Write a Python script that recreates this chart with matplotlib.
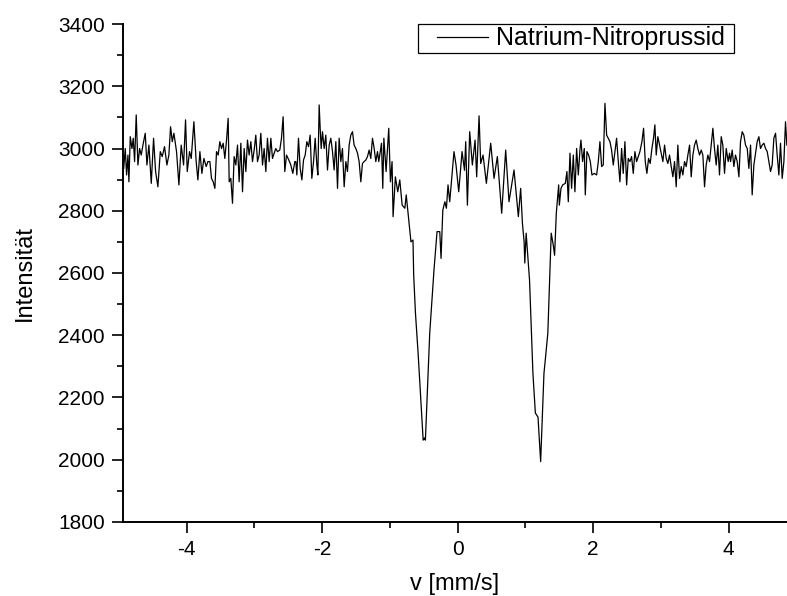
import matplotlib
matplotlib.use("Agg")
import matplotlib.pyplot as plt
from matplotlib.ticker import MultipleLocator
from matplotlib.patches import Rectangle

plt.rcParams['font.family'] = ['Liberation Sans', 'DejaVu Sans']
plt.rcParams['axes.unicode_minus'] = False

# velocity [mm/s] and counts
v = [
    -4.930, -4.907, -4.887, -4.867, -4.853, -4.833, -4.808, -4.789, -4.769, -4.745,
    -4.720, -4.695, -4.671, -4.646, -4.612, -4.587, -4.558, -4.523, -4.489, -4.459,
    -4.425, -4.390, -4.361, -4.327, -4.292, -4.263, -4.238, -4.213, -4.189, -4.150,
    -4.115, -4.081, -4.046, -4.017, -3.992, -3.958, -3.933, -3.894, -3.860, -3.835,
    -3.805, -3.776, -3.746, -3.712, -3.687,
    -3.658, -3.634, -3.609, -3.584, -3.560, -3.535, -3.511, -3.486, -3.462, -3.437,
    -3.412, -3.388, -3.373, -3.349, -3.324, -3.300, -3.275, -3.250, -3.226, -3.201,
    -3.176, -3.152, -3.127, -3.103, -3.078, -3.053, -3.029, -3.004, -2.980, -2.955,
    -2.931, -2.906, -2.881, -2.857, -2.832, -2.808, -2.783, -2.758, -2.734, -2.709,
    -2.685, -2.660, -2.626, -2.601, -2.577, -2.552, -2.527, -2.493, -2.463, -2.434,
    -2.404,
    -2.389, -2.374, -2.350, -2.325, -2.300, -2.276, -2.251, -2.227, -2.202, -2.178,
    -2.153, -2.128, -2.104, -2.079, -2.064, -2.045, -2.030, -2.015, -1.996, -1.971,
    -1.947, -1.922, -1.897, -1.873, -1.848, -1.824, -1.799, -1.774, -1.750, -1.725,
    -1.701, -1.676, -1.651, -1.627, -1.602, -1.578, -1.553, -1.529, -1.504, -1.479,
    -1.455, -1.430, -1.406, -1.381, -1.356, -1.332, -1.307, -1.283, -1.258, -1.233,
    -1.209, -1.184,
    -1.165, -1.125, -1.106, -1.090, -1.057, -1.018, -0.993, -0.969, -0.954, -0.920,
    -0.885, -0.855, -0.820, -0.780, -0.760, -0.720, -0.690, -0.660, -0.650, -0.624,
    -0.585, -0.510, -0.490, -0.477, -0.413, -0.350, -0.305, -0.265, -0.246, -0.220,
    -0.190, -0.167, -0.143, -0.118, -0.084, -0.055, -0.025, 0.015, 0.064, 0.100,
    0.118, 0.143, 0.177, 0.216, 0.256, 0.280, 0.315, 0.339, 0.374, 0.423,
    0.487, 0.536, 0.585, 0.649, 0.708, 0.757, 0.831, 0.895, 0.929, 0.955,
    0.980, 0.990, 1.010, 1.060, 1.110, 1.146, 1.185, 1.224, 1.273, 1.290,
    1.330, 1.380, 1.410, 1.430, 1.455, 1.490, 1.500, 1.524, 1.549, 1.588,
    1.612, 1.632, 1.657, 1.681, 1.706, 1.730, 1.755, 1.780, 1.804, 1.819,
    1.843, 1.868, 1.883, 1.907, 1.932, 1.957, 1.981, 2.016, 2.050, 2.075,
    2.099, 2.124, 2.148, 2.173, 2.198, 2.222, 2.247, 2.271, 2.296, 2.320,
    2.345, 2.370, 2.394, 2.419, 2.443, 2.468, 2.493, 2.517, 2.542, 2.566,
    2.591, 2.615, 2.640, 2.665, 2.689, 2.719,
    2.743, 2.768, 2.792, 2.817, 2.841, 2.866, 2.890, 2.910, 2.930, 2.954,
    2.979, 3.003, 3.028, 3.053, 3.077, 3.102, 3.126, 3.151, 3.176, 3.200,
    3.225, 3.249, 3.274, 3.299, 3.323, 3.348, 3.372, 3.397, 3.422, 3.446,
    3.471, 3.495, 3.520, 3.544, 3.569, 3.594, 3.618, 3.643, 3.667, 3.692,
    3.717, 3.741, 3.766, 3.790, 3.815, 3.839, 3.864, 3.889, 3.913, 3.938,
    3.963, 3.992, 4.012,
    4.027, 4.051, 4.076, 4.100, 4.125, 4.150, 4.174, 4.199, 4.223, 4.248,
    4.273, 4.297, 4.322, 4.346, 4.371, 4.396, 4.420, 4.445, 4.469, 4.494,
    4.519, 4.543, 4.568, 4.592, 4.617, 4.641, 4.666, 4.691, 4.715, 4.740,
    4.764, 4.789, 4.814, 4.838, 4.858,
]

counts = [
    2936, 3000, 2915, 2979, 2893, 3038, 3000, 3033, 2958, 3108,
    2947, 3000, 2979, 3011, 3049, 2947, 3011, 2888, 3033, 2926,
    2877, 2990, 2974, 3006, 2947, 2979, 3070, 3022, 3049, 2990,
    2883, 3011, 2947, 3092, 2926, 2990, 2968, 3086, 2958, 2899,
    2990, 2920, 2968, 2942, 2958,
    2958, 2904, 2893, 2872, 2990, 2979, 3022, 3000, 3017, 2968,
    3027, 3097, 2893, 2904, 2824, 2974, 2947, 3011, 2893, 3017,
    2861, 3000, 2926, 3027, 2979, 3022, 2958, 2995, 3043, 2958,
    2979, 3049, 2947, 3000, 2926, 3033, 2958, 3033, 2968, 2985,
    3000, 2990, 2995, 3033, 3102, 2926, 2979, 2963, 2947, 2920,
    2958,
    2958, 2915, 3033, 2936, 2899, 2963, 2979, 3022, 3006, 3043,
    2904, 2958, 3033, 2947, 2915, 3140, 3065, 3000, 3054, 3000,
    3043, 2931, 3011, 3033, 2990, 2931, 3022, 2872, 3033, 2958,
    3000, 2877, 2958, 2926, 3011, 3043, 3054, 3011, 3000, 2985,
    2958, 2893, 2952, 2958, 2963, 2974, 2995, 2968, 3033, 3000,
    2958, 2990,
    2958, 3017, 2872, 3033, 2926, 3065, 2893, 2958, 2781, 2909,
    2861, 2899, 2818, 2808, 2851, 2765, 2700, 2706, 2594, 2472,
    2344, 2063, 2070, 2063, 2407, 2610, 2733, 2733, 2647, 2802,
    2829, 2808, 2883, 2829, 2915, 2990, 2947, 2861, 2990, 2930,
    3022, 2818, 3054, 2947, 3027, 2909, 3105, 2952, 2979, 2888,
    3017, 2904, 2974, 2792, 2995, 2829, 2931, 2781, 2872, 2760,
    2700, 2632, 2728, 2577, 2278, 2150, 2137, 1994, 2278, 2315,
    2407, 2728, 2690, 2657, 2792, 2883, 2818, 2872, 2883, 2888,
    2926, 2829, 2985, 2872, 2979, 2861, 3000, 2915, 2995, 3027,
    2958, 3000, 2851, 2990, 2979, 2958, 2915, 2920, 2915, 2958,
    3022, 2942, 2947, 3145, 3043, 3033, 3022, 2995, 2947, 2990,
    3033, 2958, 2893, 3000, 2920, 3022, 2883, 2968, 2958, 2974,
    2920, 2990, 2958, 2974, 2990, 3022,
    3065, 2958, 2920, 2968, 2952, 3000, 3033, 3076, 2979, 3038,
    3011, 2985, 2958, 3011, 2968, 2952, 2979, 2942, 2909, 2958,
    2877, 3011, 2904, 2942, 2915, 2958, 2942, 2979, 3011, 2909,
    2979, 3011, 3027, 3000, 2979, 2995, 2979, 2877, 2947, 2979,
    2958, 3011, 3065, 3000, 2947, 3011, 2915, 3038, 3011, 2920,
    3000, 2958, 2985,
    2958, 2995, 2942, 2979, 2958, 2909, 3022, 3054, 3043, 3011,
    3000, 2936, 3011, 2851, 2947, 2985, 3022, 3038, 3000, 3011,
    3017, 3000, 2990, 2958, 2926, 2947, 3033, 3049, 2979, 2915,
    3017, 2904, 2958, 3086, 3011,
]

x_label = "v [mm/s]"
y_label = "Intensität"
series_name = "Natrium-Nitroprussid"

fig = plt.figure(figsize=(7.87, 5.96), dpi=100)
ax = fig.add_axes([0.1563, 0.1242, 0.8437, 0.8355])

ax.plot(v, counts, color="black", linewidth=0.9, label=series_name)

ax.set_xlim(-4.94, 4.86)
ax.set_ylim(1800, 3400)
ax.xaxis.set_major_locator(MultipleLocator(2))
ax.xaxis.set_minor_locator(MultipleLocator(1))
ax.yaxis.set_major_locator(MultipleLocator(200))
ax.yaxis.set_minor_locator(MultipleLocator(100))

for side in ("top", "right"):
    ax.spines[side].set_visible(False)
for side in ("left", "bottom"):
    ax.spines[side].set_linewidth(1.4)

ax.tick_params(which="major", direction="out", length=8, width=1.2, labelsize=15, pad=5)
ax.tick_params(which="minor", direction="out", length=4, width=1.2)

ax.set_xlabel(x_label, fontsize=17, labelpad=10)
ax.set_ylabel(y_label, fontsize=17, labelpad=16)

# legend: frameless entry plus a plain rectangular frame like Origin's
leg = ax.legend(loc="center left", bbox_to_anchor=(0.473, 0.971), fontsize=18,
                frameon=False, handlelength=2.05, borderpad=0.0,
                borderaxespad=0.0, handletextpad=0.32)
ax.add_patch(Rectangle((0.444, 0.942), 0.476, 0.058, transform=ax.transAxes,
                       fill=False, edgecolor="black", linewidth=0.9, clip_on=False))

plt.savefig("out.png", dpi=100)
